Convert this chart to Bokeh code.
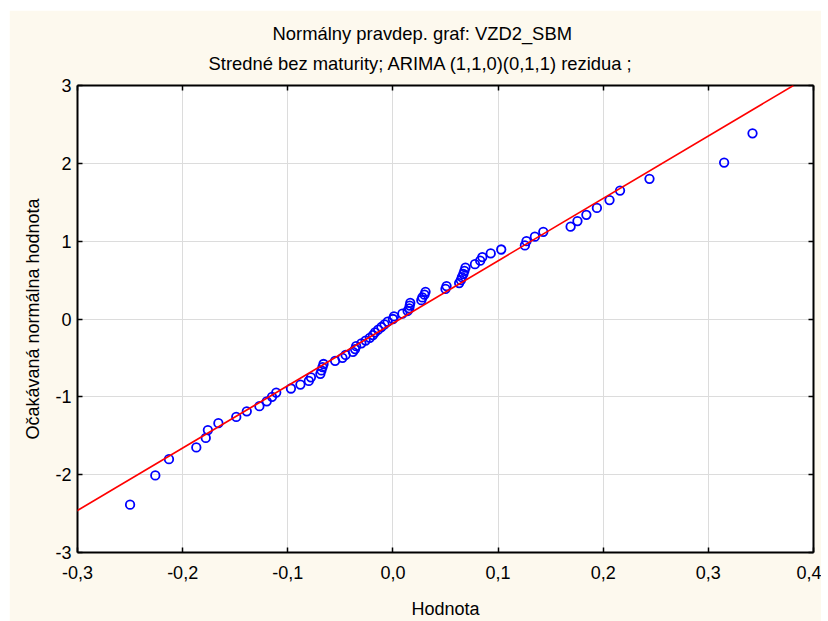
from bokeh.plotting import figure
from bokeh.models import LinearAxis, FixedTicker, Slope, Title, ColumnDataSource
from bokeh.embed import file_html
from bokeh.resources import INLINE

title_line1 = "Normálny pravdep. graf: VZD2_SBM"
title_line2 = "Stredné bez maturity; ARIMA (1,1,0)(0,1,1) rezidua  ;"
x_label = "Hodnota"
y_label = "Očakávaná normálna hodnota"

# sorted residuals (x)
residuals = [
    -0.250, -0.226, -0.213, -0.187, -0.178, -0.176, -0.166, -0.149, -0.139, -0.127,
    -0.120, -0.115, -0.111, -0.097, -0.088, -0.080, -0.078, -0.069, -0.068, -0.067,
    -0.066, -0.055, -0.048, -0.045, -0.038, -0.036, -0.035, -0.030, -0.026, -0.022,
    -0.019, -0.017, -0.014, -0.011, -0.008, -0.005,
    0.000,
    0.001, 0.009, 0.014, 0.0155, 0.016, 0.0165, 0.027, 0.028, 0.030, 0.031,
    0.050, 0.051, 0.063, 0.0646, 0.0656, 0.067, 0.068, 0.069, 0.078, 0.083,
    0.085, 0.093, 0.103, 0.1255, 0.127, 0.135, 0.143, 0.169, 0.1755, 0.184,
    0.194, 0.206, 0.216, 0.244, 0.315, 0.342,
]
# expected normal values (y)
expected_normal = [
    -2.386, -2.010, -1.801, -1.650, -1.528, -1.427, -1.338, -1.258, -1.186, -1.120,
    -1.058, -1.000, -0.945, -0.893, -0.843, -0.795, -0.749, -0.704, -0.661, -0.619,
    -0.578, -0.538, -0.499, -0.461, -0.423, -0.386, -0.349, -0.313, -0.277, -0.242,
    -0.207, -0.172, -0.137, -0.103, -0.068, -0.034,
    0.000,
    0.034, 0.068, 0.103, 0.137, 0.172, 0.207, 0.242, 0.277, 0.313, 0.349,
    0.386, 0.423, 0.461, 0.499, 0.538, 0.578, 0.619, 0.661, 0.704, 0.749,
    0.795, 0.843, 0.893, 0.945, 1.000, 1.058, 1.120, 1.186, 1.258, 1.338,
    1.427, 1.528, 1.650, 1.801, 2.010, 2.386,
]
# reference line parameters
line_mean = 0.0068
line_sd = 0.1247

x_ticks = [-0.3, -0.2, -0.1, 0.0, 0.1, 0.2, 0.3, 0.4]
x_tick_labels = ["-0,3", "-0,2", "-0,1", "0,0", "0,1", "0,2", "0,3", "0,4"]
y_ticks = [-3, -2, -1, 0, 1, 2, 3]
y_tick_labels = ["-3", "-2", "-1", "0", "1", "2", "3"]

FONT = "Liberation Sans"
FS = "18px"
TFS = "18.4px"
CREAM = "#fdf9ee"

p = figure(width=812, height=611, x_range=(-0.3, 0.4), y_range=(-3, 3),
           output_backend="svg", toolbar_location=None,
           background_fill_color="white", border_fill_color=CREAM,
           min_border_left=68, min_border_right=8, min_border_top=75,
           min_border_bottom=68, outline_line_color=None,
           margin=(10, 0, 0, 9))

src = ColumnDataSource(dict(x=residuals, y=expected_normal))

p.xgrid.ticker = FixedTicker(ticks=x_ticks)
p.ygrid.ticker = FixedTicker(ticks=y_ticks)
for g in (p.xgrid, p.ygrid):
    g.grid_line_color = "#dcdcdc"
    g.grid_line_width = 1

p.add_layout(Slope(gradient=1.0 / line_sd, y_intercept=-line_mean / line_sd,
                   line_color="#ff0000", line_width=1.6))
p.scatter("x", "y", source=src, marker="circle", size=8.5,
          fill_color=None, line_color="#0000ff", line_width=1.8)

def style_axis(ax, ticks, labels):
    ax.ticker = FixedTicker(ticks=ticks)
    ax.major_label_overrides = dict(zip(ticks, labels))
    ax.major_tick_in = 5
    ax.major_tick_out = 0
    ax.minor_tick_line_color = None
    ax.axis_line_color = "black"
    ax.axis_line_width = 2
    ax.major_tick_line_color = "black"
    ax.major_tick_line_width = 1.5
    ax.major_label_text_font = FONT
    ax.major_label_text_font_size = FS
    ax.major_label_text_color = "black"
    ax.axis_label_text_font = FONT
    ax.axis_label_text_font_size = FS
    ax.axis_label_text_font_style = "normal"
    ax.axis_label_text_color = "black"

xa = p.xaxis[0]
style_axis(xa, x_ticks, x_tick_labels)
xa.major_label_standoff = 13
xa.axis_label = x_label
xa.axis_label_standoff = 17

ya = p.yaxis[0]
style_axis(ya, y_ticks, y_tick_labels)
ya.major_label_standoff = 6
ya.axis_label = y_label
ya.axis_label_standoff = 9

top = LinearAxis()
style_axis(top, x_ticks, ["" for _ in x_ticks])
top.major_label_text_font_size = "0px"
top.major_label_standoff = 0
p.add_layout(top, "above")

right = LinearAxis()
style_axis(right, y_ticks, ["" for _ in y_ticks])
right.major_label_text_font_size = "0px"
right.major_label_standoff = 0
p.add_layout(right, "right")

p.add_layout(Title(text=title_line2, align="left", offset=131, standoff=23,
                   text_font=FONT, text_font_size=TFS, text_font_style="normal",
                   text_color="black"), "above")
p.add_layout(Title(text=title_line1, align="left", offset=195, standoff=-8,
                   text_font=FONT, text_font_size=TFS, text_font_style="normal",
                   text_color="black"), "above")

open("out.html", "w").write(file_html(p, INLINE))
